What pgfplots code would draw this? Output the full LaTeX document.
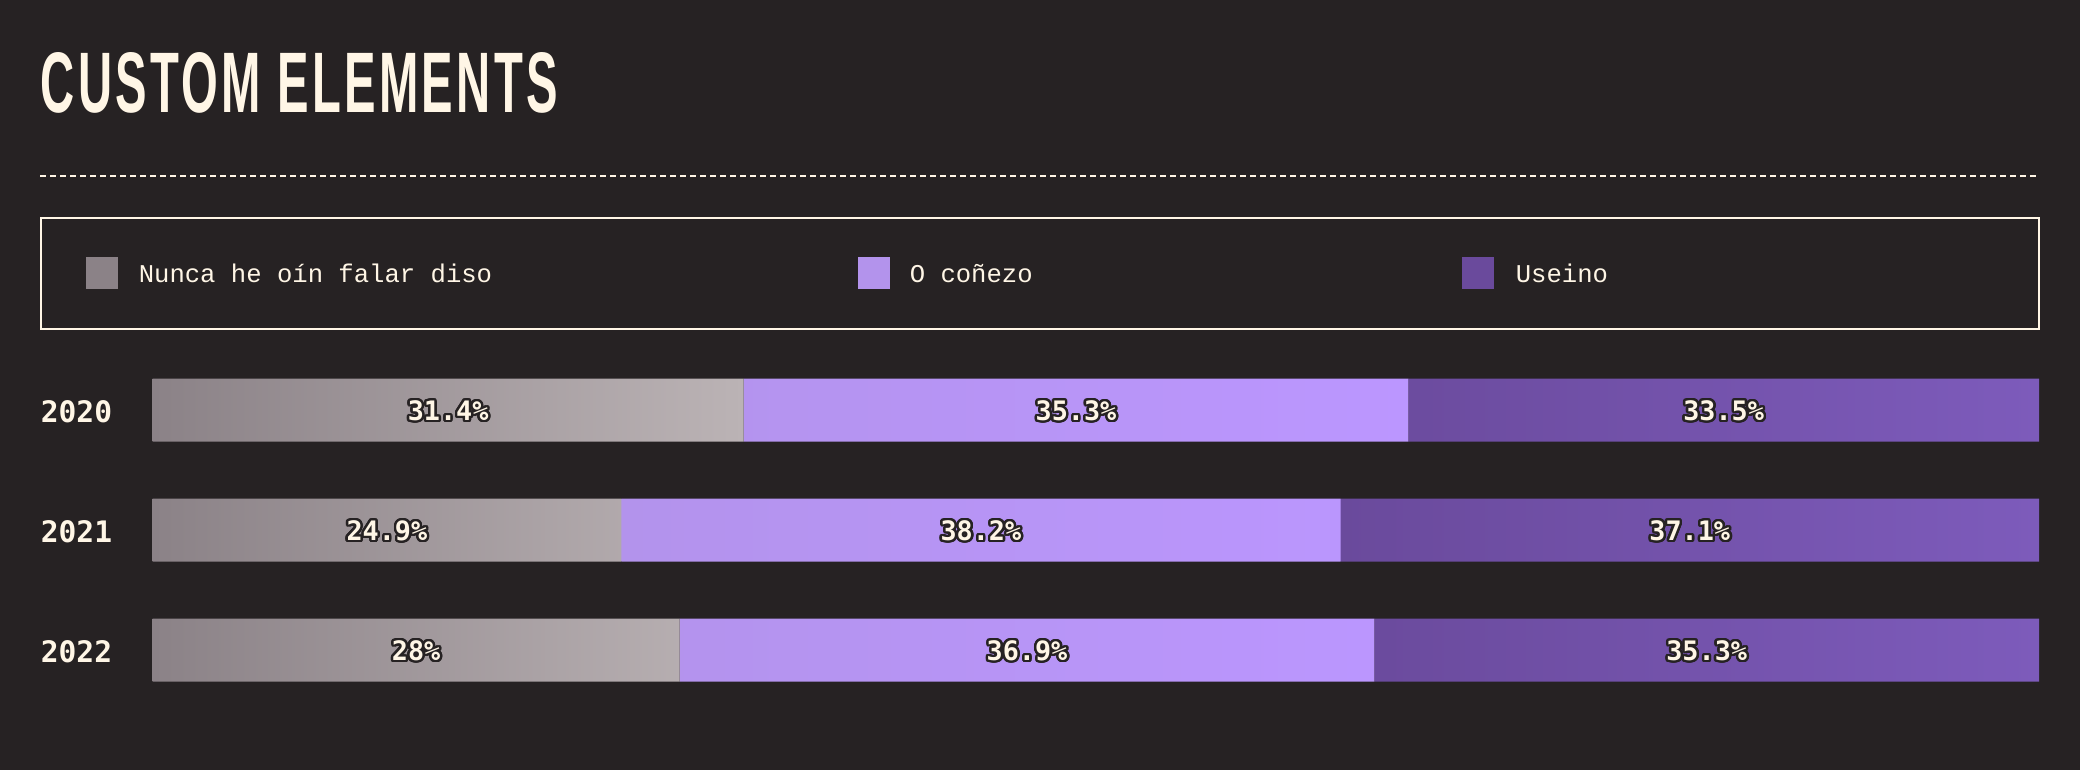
\documentclass[border=0pt]{standalone}
\usepackage{pgfplots}
\usepackage{pgfplotstable}
\pgfplotsset{compat=1.18}
\usepackage{fontspec}
\usepackage[copies]{contour}
\setmainfont{Liberation Sans}
\newfontfamily\titlefont{Liberation Sans}[LetterSpace=7]
\newfontfamily\legfont{Liberation Mono}
\newfontfamily\monob{DejaVu Sans Mono}

\definecolor{bg}{HTML}{262223}
\definecolor{cream}{HTML}{FFF6E6}
\definecolor{grayL}{HTML}{8B8287}
\definecolor{grayR}{HTML}{BBB3B5}
\definecolor{lilaL}{HTML}{B393EC}
\definecolor{lilaR}{HTML}{BB96FF}
\definecolor{violL}{HTML}{6A4A9C}
\definecolor{violR}{HTML}{7D5BBB}

\contourlength{0.6pt}
\contournumber{24}

% share of answers per year (percent)
\pgfplotstableread{
yr never know used
0  31.4  35.3  33.5
1  24.9  38.2  37.1
2  28    36.9  35.3
}\survey

\begin{document}
\begin{tikzpicture}
\fill[bg] (0,0) rectangle (520pt,-192.5pt);
\path[use as bounding box] (0,0) rectangle (520pt,-192.5pt);

\begin{scope}[x=0.25pt,y=-0.25pt]
  % title
  \node[anchor=base west,inner sep=0pt,text=cream] at (40,113)
    {\resizebox{129.25pt}{15pt}{\titlefont\bfseries CUSTOM ELEMENTS}};
  % separator
  \draw[cream,line width=0.5pt,dash pattern=on 1.5pt off 1pt] (40,176) -- (2039,176);
  % legend
  \draw[cream,line width=0.5pt] (41,218) rectangle (2039,329);
  \fill[grayL] (86,257) rectangle (118,289);
  \fill[lilaL] (858,257) rectangle (890,289);
  \fill[violL] (1462,257) rectangle (1494,289);
  \begin{scope}[every node/.style={anchor=base west,inner sep=0pt,text=cream,font=\legfont\fontsize{6.4pt}{7pt}\selectfont}]
    \node at (138,282) {Nunca he oín falar diso};
    \node at (909,282) {O coñezo};
    \node at (1515,282) {Useino};
  \end{scope}
\end{scope}

\begin{axis}[
  at={(38.125pt,-87.5pt)}, anchor=north west,
  scale only axis, width=471.625pt, height=90pt,
  xbar stacked, bar width=15.75pt,
  xmin=0, xmax=100.2, ymin=-0.5, ymax=2.5, y dir=reverse,
  clip=false,
  axis line style={draw=none}, tick style={draw=none},
  xtick=\empty,
  ytick={0,1,2},
  yticklabels={2020,2021,2022},
  yticklabel style={anchor=west, inner sep=0pt, xshift=-28.125pt, yshift=-0.5pt,
    text=cream, font=\monob\bfseries\fontsize{7.4pt}{8pt}\selectfont},
  visualization depends on=rawx\as\rawx,
  nodes near coords={\contour{bg}{\pgfmathprintnumber[assume math mode=true]{\rawx}\%}},
  every node near coord/.append style={anchor=center, inner sep=0pt, text=cream,
    yshift=-0.5pt, font=\monob\bfseries\fontsize{6.7pt}{7pt}\selectfont},
]
\addplot[draw=none, left color=grayL, right color=grayR] table[x=never, y=yr] {\survey};
\addplot[draw=none, left color=lilaL, right color=lilaR] table[x=know, y=yr] {\survey};
\addplot[draw=none, left color=violL, right color=violR] table[x=used, y=yr] {\survey};
\end{axis}
\end{tikzpicture}
\end{document}
